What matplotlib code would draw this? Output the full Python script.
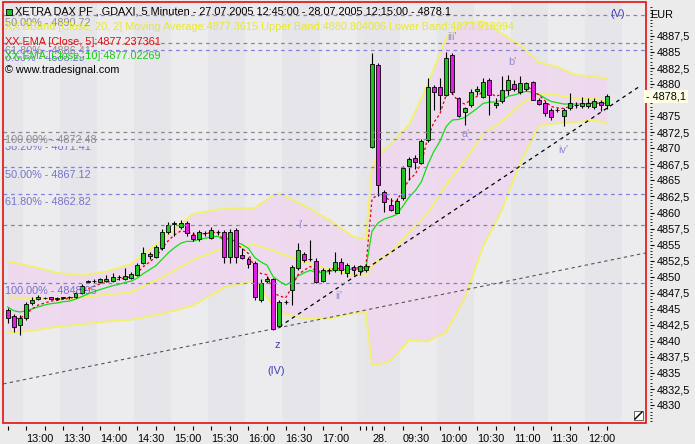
import numpy as np
import matplotlib
matplotlib.use('Agg')
import matplotlib.pyplot as plt
from matplotlib.patches import Rectangle
from matplotlib.lines import Line2D
from matplotlib.ticker import FixedLocator, FuncFormatter

# ---------------- data ----------------
opens = [4844.8, 4843.9, 4842.5, 4843.5, 4845.9, 4846.5, 4846.7, 4846.8, 4846.6, 4846.7,
         4846.8, 4846.9, 4847.5, 4849.2, 4849.3, 4849.2, 4849.3, 4849.3, 4849.9, 4849.7,
         4849.8, 4850.3, 4852.2, 4853.2, 4853.1, 4854.4, 4857.0, 4858.2, 4857.7, 4858.3,
         4856.5, 4855.8, 4856.8, 4856.1, 4856.9, 4857.0, 4853.1, 4857.3, 4853.4, 4852.8,
         4852.1, 4846.3, 4849.3, 4849.6, 4842.3, 4846.0, 4847.9, 4851.3, 4853.5, 4852.7,
         4852.5, 4849.4, 4851.0, 4851.0, 4852.3, 4850.6, 4851.5, 4850.9, 4851.1, 4870.2,
         4883.0, 4863.2, 4861.2, 4860.0, 4862.2, 4867.2, 4868.5, 4867.7, 4871.3, 4879.5,
         4879.5, 4878.3, 4884.5, 4877.8, 4875.7, 4876.7, 4879.0, 4878.0, 4880.6, 4876.7,
         4877.3, 4879.1, 4880.0, 4878.7, 4879.3, 4880.4, 4877.6, 4877.1, 4875.9, 4876.0,
         4875.0, 4876.2, 4876.7, 4876.6, 4876.6, 4876.5, 4877.2, 4876.7]
highs = [4845.1, 4844.2, 4844.0, 4846.1, 4846.8, 4847.2, 4846.9, 4846.9, 4846.9, 4846.9,
         4847.0, 4847.8, 4848.8, 4849.5, 4849.6, 4849.8, 4850.3, 4850.6, 4850.3, 4851.3,
         4850.7, 4852.1, 4854.7, 4853.9, 4855.0, 4857.5, 4858.5, 4858.6, 4858.8, 4858.6,
         4856.9, 4857.3, 4857.1, 4857.8, 4857.3, 4857.3, 4857.5, 4857.6, 4854.5, 4853.1,
         4852.4, 4849.6, 4850.1, 4849.8, 4846.3, 4846.4, 4851.9, 4855.2, 4853.9, 4855.7,
         4852.9, 4851.4, 4851.4, 4853.9, 4852.9, 4852.1, 4851.8, 4851.8, 4852.0, 4884.8,
         4883.3, 4863.5, 4862.3, 4862.2, 4867.2, 4868.7, 4868.9, 4871.5, 4880.9, 4879.8,
         4880.9, 4885.0, 4884.8, 4878.0, 4876.5, 4879.3, 4879.7, 4880.9, 4880.9, 4877.8,
         4881.2, 4881.4, 4880.6, 4881.3, 4880.4, 4880.5, 4877.8, 4877.4, 4876.3, 4876.3,
         4876.3, 4878.6, 4877.2, 4878.0, 4877.8, 4877.8, 4877.5, 4878.5]
lows = [4842.8, 4841.4, 4840.9, 4843.2, 4845.6, 4846.3, 4846.5, 4846.3, 4846.4, 4846.5,
        4846.6, 4846.7, 4847.3, 4849.0, 4849.0, 4849.0, 4849.2, 4849.2, 4849.5, 4849.5,
        4849.6, 4850.1, 4852.0, 4852.8, 4852.9, 4854.2, 4856.7, 4856.3, 4857.5, 4856.3,
        4855.6, 4855.6, 4856.4, 4855.9, 4856.5, 4852.1, 4852.1, 4852.1, 4852.7, 4851.3,
        4846.3, 4846.1, 4849.0, 4841.7, 4842.1, 4845.8, 4845.6, 4851.0, 4852.3, 4852.4,
        4849.0, 4849.2, 4850.4, 4850.7, 4850.4, 4849.9, 4850.2, 4850.3, 4850.8, 4870.0,
        4862.5, 4860.1, 4860.2, 4859.9, 4861.9, 4865.0, 4866.7, 4867.5, 4871.0, 4876.0,
        4876.0, 4878.2, 4878.5, 4874.8, 4873.6, 4876.5, 4878.3, 4877.8, 4875.2, 4876.3,
        4877.0, 4878.3, 4879.0, 4878.5, 4879.0, 4877.5, 4876.7, 4875.0, 4874.4, 4875.6,
        4873.4, 4876.0, 4876.3, 4876.3, 4876.3, 4876.1, 4875.8, 4876.1]
closes = [4843.5, 4842.2, 4843.5, 4845.7, 4846.4, 4846.8, 4846.7, 4846.6, 4846.7, 4846.8,
          4846.9, 4847.5, 4848.6, 4849.3, 4849.3, 4849.6, 4849.7, 4850.0, 4849.9, 4850.1,
          4850.4, 4851.8, 4853.7, 4853.6, 4854.7, 4857.0, 4858.05, 4858.4, 4858.3, 4856.8,
          4855.8, 4856.9, 4856.8, 4857.2, 4856.9, 4853.1, 4857.0, 4853.1, 4852.9, 4852.0,
          4846.8, 4849.0, 4849.7, 4841.8, 4846.1, 4846.0, 4851.5, 4854.2, 4852.6, 4852.7,
          4849.2, 4851.0, 4851.0, 4852.3, 4851.0, 4851.8, 4851.0, 4851.7, 4851.7, 4883.2,
          4864.3, 4861.7, 4860.4, 4861.8, 4866.9, 4868.4, 4867.9, 4871.1, 4879.5, 4878.7,
          4878.3, 4884.0, 4878.8, 4875.0, 4876.2, 4878.8, 4879.2, 4880.4, 4878.3, 4877.0,
          4879.1, 4880.7, 4879.2, 4880.2, 4880.2, 4877.5, 4876.9, 4875.5, 4874.8, 4876.0,
          4876.0, 4877.1, 4876.7, 4877.1, 4877.1, 4877.4, 4876.8, 4878.1]

ema5 = [4844.2, 4843.5, 4843.5, 4844.2, 4845.0, 4845.6, 4845.9, 4846.2, 4846.3, 4846.5,
        4846.6, 4846.9, 4847.5, 4848.1, 4848.5, 4848.9, 4849.1, 4849.4, 4849.6, 4849.8,
        4850.0, 4850.6, 4851.6, 4852.3, 4853.1, 4854.4, 4855.6, 4856.5, 4857.1, 4857.0,
        4856.6, 4856.7, 4856.7, 4856.9, 4856.9, 4855.6, 4856.1, 4855.1, 4854.4, 4853.6,
        4851.3, 4850.5, 4850.3, 4847.5, 4847.0, 4846.7, 4848.3, 4850.3, 4851.0, 4851.6,
        4850.8, 4850.9, 4850.9, 4851.4, 4851.2, 4851.4, 4851.3, 4851.4, 4851.5, 4862.1,
        4862.8, 4862.5, 4861.8, 4861.8, 4863.5, 4865.1, 4866.0, 4867.7, 4871.6, 4874.0,
        4875.4, 4878.3, 4878.5, 4877.3, 4876.9, 4877.5, 4878.1, 4878.9, 4878.7, 4878.1,
        4878.4, 4879.2, 4879.2, 4879.5, 4879.8, 4879.0, 4878.3, 4877.4, 4876.5, 4876.3,
        4876.2, 4876.5, 4876.6, 4876.8, 4876.9, 4877.1, 4877.0, 4877.24]
ema10 = [4845.3, 4844.7, 4844.5, 4844.7, 4845.0, 4845.3, 4845.6, 4845.8, 4845.9, 4846.1,
         4846.2, 4846.5, 4846.9, 4847.3, 4847.7, 4848.0, 4848.3, 4848.6, 4848.8, 4849.1,
         4849.3, 4849.8, 4850.5, 4851.1, 4851.7, 4852.7, 4853.7, 4854.5, 4855.2, 4855.5,
         4855.5, 4855.8, 4856.0, 4856.2, 4856.3, 4855.7, 4856.0, 4855.4, 4855.0, 4854.4,
         4853.0, 4852.3, 4851.8, 4850.0, 4849.3, 4848.7, 4849.2, 4850.1, 4850.6, 4851.0,
         4850.6, 4850.7, 4850.8, 4851.0, 4851.0, 4851.2, 4851.1, 4851.2, 4851.3, 4857.1,
         4858.4, 4859.0, 4859.3, 4859.7, 4861.0, 4862.4, 4863.4, 4864.8, 4867.4, 4869.5,
         4871.1, 4873.4, 4874.4, 4874.5, 4874.8, 4875.5, 4876.2, 4877.0, 4877.2, 4877.2,
         4877.5, 4878.1, 4878.3, 4878.6, 4878.9, 4878.7, 4878.4, 4877.8, 4877.3, 4877.1,
         4876.9, 4876.9, 4876.9, 4876.9, 4877.0, 4877.0, 4877.0, 4877.02]

bb_idx = [0, 4, 8, 12, 16, 20, 25, 30, 35, 40, 43, 44, 48, 52, 56, 58, 59, 60, 62, 65,
          68, 71, 74, 77, 80, 83, 86, 89, 92, 95, 97]
bb_upper = [4852.4, 4851.6, 4850.6, 4850.2, 4850.8, 4852.0, 4855.7, 4859.8, 4860.6, 4860.7,
            4862.7, 4863.0, 4861.1, 4858.9, 4856.2, 4855.9, 4867.2, 4868.9, 4870.6, 4873.7,
            4879.9, 4887.3, 4889.6, 4889.8, 4887.9, 4886.0, 4883.4, 4882.7, 4881.4, 4881.2,
            4880.8]
bb_mid = [4846.8, 4846.6, 4846.5, 4846.8, 4847.2, 4847.6, 4849.9, 4852.6, 4854.5, 4855.0,
          4854.1, 4853.7, 4852.3, 4851.2, 4850.3, 4850.2, 4851.7, 4852.6, 4853.8, 4856.9,
          4859.9, 4864.3, 4868.1, 4872.3, 4874.1, 4876.9, 4878.5, 4878.3, 4877.7, 4877.8,
          4877.36]
bb_lower = [4841.2, 4841.6, 4842.2, 4842.6, 4843.0, 4843.3, 4844.2, 4845.5, 4848.3, 4849.4,
            4845.5, 4844.4, 4843.5, 4843.5, 4844.3, 4844.4, 4836.2, 4836.3, 4836.9, 4840.1,
            4839.9, 4841.4, 4846.6, 4854.8, 4860.3, 4867.8, 4873.5, 4873.9, 4874.1, 4874.4,
            4873.92]

fib_grey = [("50.00% - 4890.72", 4890.72), ("61.80% - 4886.41", 4886.41),
            ("100.00% - 4872.48", 4872.48), ("", 4858.0)]
fib_blue = [("0.00% - 4885.29", 4885.29), ("38.20% - 4871.41", 4871.41),
            ("50.00% - 4867.12", 4867.12), ("61.80% - 4862.82", 4862.82),
            ("100.00% - 4848.95", 4848.95)]

waves = [("(V)", 98.7, 4890.9, '#3c3cb4'), ("iii'", 72.0, 4887.3, '#8c8cd6'),
         ("b'", 81.8, 4883.4, '#8c8cd6'), ("a'", 74.1, 4872.2, '#8c8cd6'),
         ("iv'", 89.9, 4869.7, '#8c8cd6'), ("i'", 47.4, 4858.0, '#8c8cd6'),
         ("ii'", 53.7, 4847.0, '#8c8cd6'), ("z", 43.6, 4839.4, '#3c3cb4'),
         ("(IV)", 43.5, 4835.3, '#3c3cb4')]

trend_a = ([44.0, 102.4], [4842.2, 4879.7])
trend_b = ([-0.7, 103.3], [4833.3, 4853.7])

tick15 = list(range(0, 58, 3)) + list(range(58, 98, 3))
label_pos = [3, 9, 15, 21, 27, 33, 39, 45, 51, 59, 64, 70, 76, 82, 88, 94]
label_txt = ['13:00', '13:30', '14:00', '14:30', '15:00', '15:30', '16:00', '16:30',
             '17:00', '28.', '09:30', '10:00', '10:30', '11:00', '11:30', '12:00']

# ---------------- figure ----------------
W, H = 695, 444
BG = '#ebebeb'
plt.rcParams['font.family'] = ['Liberation Sans', 'DejaVu Sans']
FS = 7.8
fig = plt.figure(figsize=(W / 100, H / 100), dpi=100, facecolor=BG)
L, R, T, B = 3, 646, 2, 423
ax = fig.add_axes([L / W, 1 - B / H, (R - L) / W, (B - T) / H])
xmin, xmax = -0.74, 103.35
ymin = 4885 - (B - 52) / 6.42
ymax = 4885 + (52 - T) / 6.42
ax.set_xlim(xmin, xmax)
ax.set_ylim(ymin, ymax)
ax.set_facecolor('#e7e7eb')

n = len(closes)
x = np.arange(n)

# background stripes (30 minute blocks)
starts = [-3 + 6 * k for k in range(10)] + [58 + 6 * k for k in range(8)]
for k, s in enumerate(starts):
    col = '#e5e5ea' if k % 2 == 0 else '#ececef'
    ax.axvspan(s - 0.5, s + 5.5, color=col, lw=0, zorder=0)

# bollinger
ax.fill_between(bb_idx, bb_lower, bb_upper, color='#f0d4f0', alpha=0.75, lw=0, zorder=1)
for arr in (bb_upper, bb_mid, bb_lower):
    ax.plot(bb_idx, arr, color='#f2f26a', lw=1.3, zorder=2)

# trend lines
ax.plot(*trend_a, color='black', lw=0.9, ls=(0, (3, 3)), zorder=3)
ax.plot(*trend_b, color='#555555', lw=0.8, ls=(0, (3, 3)), zorder=3)

# EMAs
ax.plot(x, ema10, color='#10e010', lw=0.9, zorder=3.5)
ax.plot(x, ema5, color='#e00000', lw=0.9, ls=(0, (2, 2)), zorder=3.6)

# candles
o = np.array(opens); c = np.array(closes)
up = c >= o
ax.vlines(x, lows, highs, color='black', lw=0.8, zorder=4)
bot = np.minimum(o, c)
hgt = np.maximum(np.abs(c - o), 0.02)
ax.bar(x, hgt, bottom=bot, width=0.64,
       color=np.where(up, '#1fc41f', '#e020e0'), edgecolor='black', lw=0.6, zorder=4.5)

# fib lines and labels
for txt, v in fib_blue:
    ax.axhline(v, color='#8080e0', lw=0.9, ls=(0, (3, 3)), zorder=6)
    if txt:
        ax.annotate(txt, (0, v), xycoords=('axes fraction', 'data'), xytext=(1.5, -2),
                    textcoords='offset points', va='top', ha='left', fontsize=FS,
                    color='#7474c8', zorder=5)
for txt, v in fib_grey:
    ax.axhline(v, color='#8a8a8a', lw=0.9, ls=(0, (3, 3)), zorder=6)
    if txt:
        ax.annotate(txt, (0, v), xycoords=('axes fraction', 'data'), xytext=(1.5, -2),
                    textcoords='offset points', va='top', ha='left', fontsize=FS,
                    color='#8c8c8c', zorder=5.5,
                    bbox=dict(boxstyle='square,pad=0.05', fc='#e8e8ec', ec='none'))

for txt, xi, yv, col in waves:
    ax.text(xi, yv, txt, color=col, fontsize=FS, ha='center', va='center', zorder=7)

# border and corner icon
for s in ax.spines.values():
    s.set_visible(False)
ax.add_patch(Rectangle((0, 0), 1, 1, transform=ax.transAxes, fill=False,
                       ec='#e01010', lw=1.2, zorder=10, clip_on=False))
ax.add_patch(Rectangle((1 - 12 / (R - L), 3 / (B - T)), 9 / (R - L), 9 / (B - T),
                       transform=ax.transAxes, fc='white', ec='#666666', lw=0.7, zorder=10))
ax.add_line(Line2D([1 - 11 / (R - L), 1 - 4 / (R - L)], [4 / (B - T), 11 / (B - T)],
                   transform=ax.transAxes, color='black', lw=1.0, zorder=11))

# right axis
ax.yaxis.tick_right()
yt = [v for v in np.arange(4830, 4890, 2.5) if abs(v - 4877.5) > 0.1]
ax.yaxis.set_major_locator(FixedLocator(yt))
ax.yaxis.set_major_formatter(FuncFormatter(lambda v, p: f"{v:g}".replace('.', ',')))
ax.yaxis.set_minor_locator(FixedLocator(np.arange(4827.5, 4892.5, 0.5)))
ax.spines['right'].set_position(('outward', 3))
ax.tick_params(axis='y', which='major', length=3, width=0.8, pad=1.5, labelsize=FS,
               colors='black')
ax.tick_params(axis='y', which='minor', length=1.5, width=0.6)
ax.text(1.0, 4878.1, "- 4878,1", transform=ax.get_yaxis_transform(), fontsize=FS,
        ha='left', va='center', zorder=11, clip_on=False,
        bbox=dict(boxstyle='square,pad=0.15', fc='#ffffe6', ec='none'))
fig.text(650 / W, 1 - 15 / H, "EUR", fontsize=FS, ha='left', va='center')

# bottom axis
ax.spines['bottom'].set_position(('outward', 2))
ax.xaxis.set_major_locator(FixedLocator(label_pos))
ax.xaxis.set_minor_locator(FixedLocator(tick15))
ax.set_xticklabels(label_txt)
ax.tick_params(axis='x', which='both', length=3, width=0.8, pad=3, labelsize=FS)
for lb in ax.get_xticklabels():
    lb.set_horizontalalignment('left')

# legend texts
def ft(px, py, s, col, **kw):
    fig.text(px / W, 1 - py / H, s, color=col, fontsize=FS, ha='left', va='center',
             zorder=20, **kw)

fig.patches.append(Rectangle((6 / W, 1 - 15.5 / H), 6 / W, 6 / H, transform=fig.transFigure,
                             fc='#20c020', ec='black', lw=0.6, zorder=20))
ft(15, 12, "XETRA DAX PF ,.GDAXI, 5 Minuten - 27.07.2005 12:45:00 - 28.07.2005 12:15:00 - 4878.1", 'black')
ft(5, 27, "XX BBand [Close, 20, 2] Moving Average:4877.3615 Upper Band:4880.804006 Lower Band:4873.918994", '#e8e832')
ft(5, 42, "XX EMA [Close, 5]:4877.237361", '#e01010')
ft(5, 56, "XX EMA [Close, 10]:4877.02269", '#10d010')
ft(5, 70, "\u00a9 www.tradesignal.com", 'black')

fig.savefig('out.png', dpi=100, facecolor=BG)
